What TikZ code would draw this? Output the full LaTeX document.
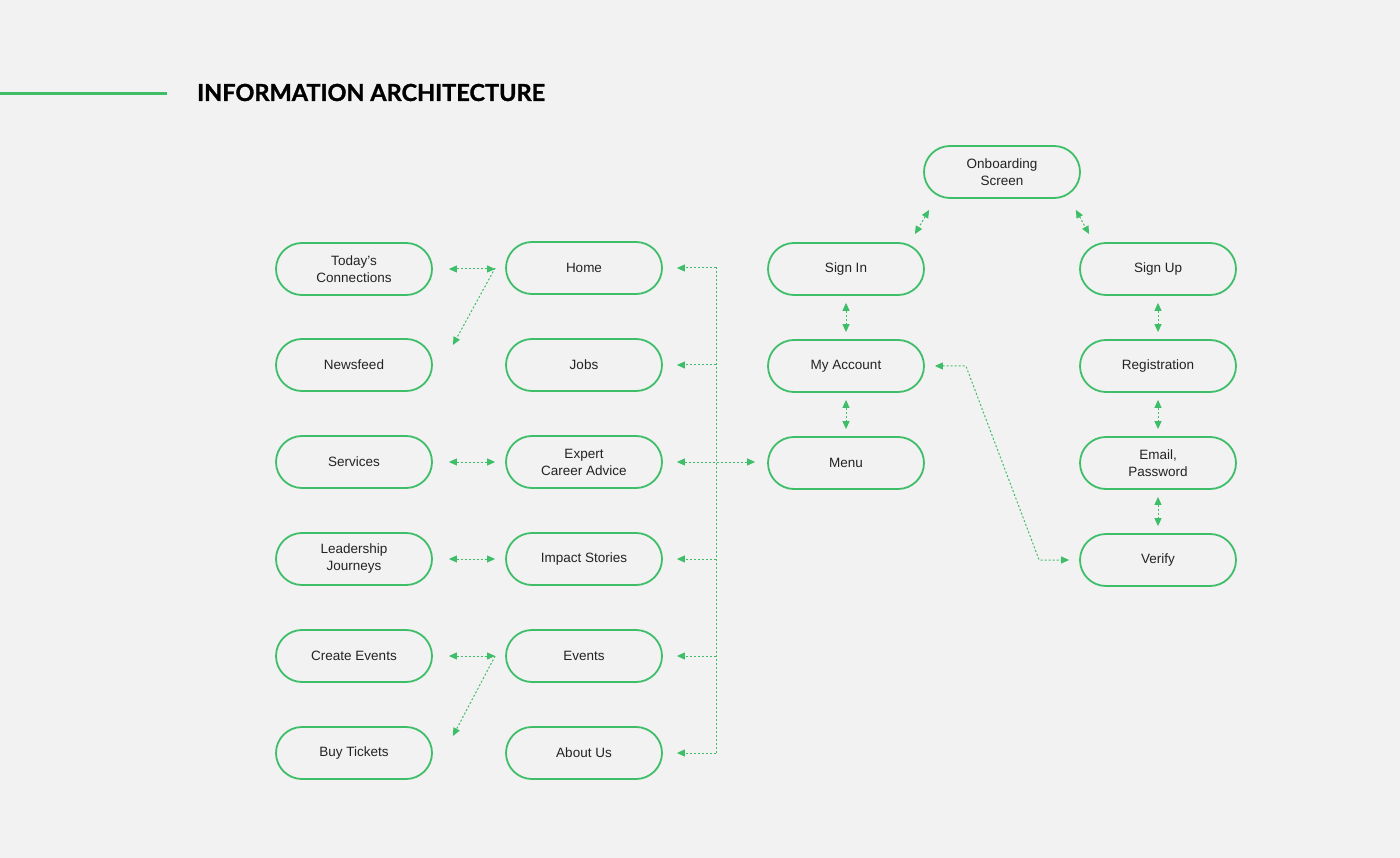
\documentclass[tikz,border=0pt]{standalone}
\usepackage{fontspec}
\setmainfont{Liberation Sans}
\newfontfamily\titlefont{Lato}[BoldFeatures={FakeBold=1.2}]
\usetikzlibrary{arrows.meta,calc}
\definecolor{iagreen}{RGB}{62,190,105}
\definecolor{iabg}{RGB}{242,242,242}
\definecolor{iatext}{RGB}{35,35,35}
\tikzset{
  screen/.style={draw=iagreen, line width=1.8pt, rounded corners=26pt, minimum width=156pt, minimum height=52pt,
    align=center, text=iatext, font=\fontsize{13.5}{17}\selectfont, inner sep=0pt},
  link/.style={draw=iagreen, line width=1pt, dash pattern=on 2pt off 2pt, >={Triangle[length=8pt,width=7pt]}},
  gapl/.style={shorten <=#1},
  gapr/.style={shorten >=#1}
}
\begin{document}
\begin{tikzpicture}[x=1pt,y=-1pt]
\useasboundingbox[fill=iabg] (0,0) rectangle (1400,858);
% title
\draw[iagreen, line width=3pt] (0,94) -- (167,94);
\node[anchor=base west, inner sep=0pt, font=\titlefont\bfseries\fontsize{23.5}{28}\selectfont] (title) at (197,101) {INFORMATION ARCHITECTURE};
% left column
\node[screen] (today) at (354,269) {Today's\\Connections};
\node[screen] (newsfeed) at (354,365) {Newsfeed};
\node[screen] (services) at (354,462) {Services};
\node[screen] (leadership) at (354,559) {Leadership\\Journeys};
\node[screen] (createev) at (354,656) {Create Events};
\node[screen] (buytix) at (354,753) {Buy Tickets};
% main menu column
\node[screen] (home) at (584,268) {Home};
\node[screen] (jobs) at (584,365) {Jobs};
\node[screen] (expert) at (584,462) {Expert\\Career Advice};
\node[screen] (impact) at (584,559) {Impact Stories};
\node[screen] (events) at (584,656) {Events};
\node[screen] (about) at (584,753) {About Us};
% account column
\node[screen] (onboard) at (1002,172) {Onboarding\\Screen};
\node[screen] (signin) at (846,269) {Sign In};
\node[screen] (account) at (846,366) {My Account};
\node[screen] (menu) at (846,463) {Menu};
% sign up column
\node[screen] (signup) at (1158,269) {Sign Up};
\node[screen] (registration) at (1158,366) {Registration};
\node[screen] (email) at (1158,463) {Email,\\Password};
\node[screen] (verify) at (1158,560) {Verify};
% left links
\draw[link,<->,gapl=16pt,gapr=10pt] (today.east) -- (home.west |- today.east);
\draw[link,->] ($(home.west)+(-10,0)$) -- ($(newsfeed.east)+(20,-20)$);
\draw[link,<->,gapl=16pt,gapr=10pt] (services.east) -- (expert.west |- services.east);
\draw[link,<->,gapl=16pt,gapr=10pt] (leadership.east) -- (impact.west |- leadership.east);
\draw[link,<->,gapl=16pt,gapr=10pt] (createev.east) -- (events.west |- createev.east);
\draw[link,->] ($(events.west)+(-10,0)$) -- ($(buytix.east)+(20,-17)$);
% trunk to menu
\coordinate (trunkT) at (716,267);
\coordinate (trunkB) at (716,753);
\draw[link] (trunkT) -- (trunkB);
\foreach \n in {home,jobs,impact,events,about}
  \draw[link,->,gapr=14pt] (\n.east -| trunkT) -- (\n.east);
\draw[link,<->,gapl=14pt,gapr=12pt] (expert.east) -- (menu.west |- expert.east);
% account links
\draw[link,<->] ($(onboard.south west)+(6,11)$) -- ($(signin.north east)+(-10,-8)$);
\draw[link,<->] ($(onboard.south east)+(-5,11)$) -- ($(signup.north west)+(10,-8)$);
\draw[link,<->,gapl=7pt,gapr=7pt] (signin.south) -- (account.north);
\draw[link,<->,gapl=7pt,gapr=7pt] (account.south) -- (menu.north);
\draw[link,<->,gapl=7pt,gapr=7pt] (signup.south) -- (registration.north);
\draw[link,<->,gapl=7pt,gapr=7pt] (registration.south) -- (email.north);
\draw[link,<->,gapl=7pt,gapr=7pt] (email.south) -- (verify.north);
\draw[link,<->] ($(account.east)+(10,0)$) -- ($(account.east)+(41,0)$) -- ($(verify.west)+(-40,0)$) -- ($(verify.west)+(-10,0)$);
\end{tikzpicture}
\end{document}
